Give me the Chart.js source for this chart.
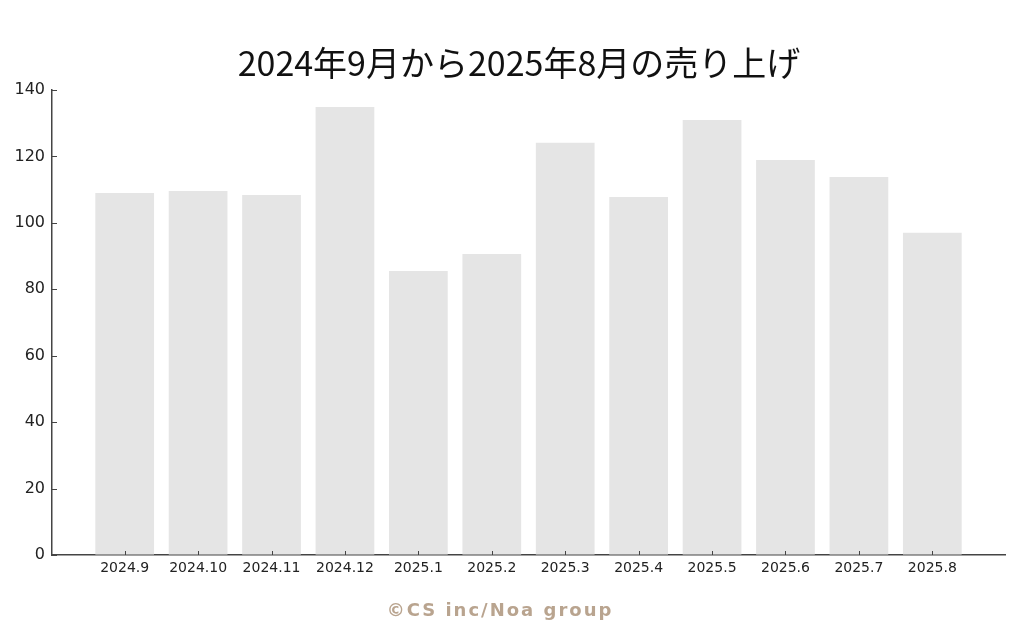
<!DOCTYPE html>
<html>
<head>
<meta charset="utf-8">
<script src="https://cdn.jsdelivr.net/npm/chart.js@4.4.1/dist/chart.umd.min.js"></script>
<style>
  html, body { margin: 0; padding: 0; background: #fff; }
  #wrap { position: relative; width: 1024px; height: 642px; }
  #title {
    position: absolute; left: 7px; top: 37px; width: 1024px; text-align: center;
    font-family: "Noto Sans CJK JP", "Noto Sans", sans-serif; font-size: 34px; color: #111;
  }
  #credit {
    position: absolute; left: 0; top: 599px; width: 1000px; text-align: center;
    font-family: "DejaVu Sans", sans-serif; font-size: 18px; letter-spacing: 2px;
    color: #b9a48f; font-weight: bold;
  }
</style>
</head>
<body>
<div id="wrap">
  <canvas id="myChart" width="1024" height="642"></canvas>
  <div id="title">2024年9月から2025年8月の売り上げ</div>
  <div id="credit">©CS inc/Noa group</div>
</div>
<script>
const months = ["2024.9", "2024.10", "2024.11", "2024.12", "2025.1", "2025.2",
  "2025.3", "2025.4", "2025.5", "2025.6", "2025.7", "2025.8"];
const sales = [109, 109.6, 108.4, 134.9, 85.5, 90.6, 124.1, 107.8, 131, 118.9, 113.8, 97];
const yTicks = [0, 20, 40, 60, 80, 100, 120, 140];

const axisColor = "#444";

// matplotlib style ticks pointing into the plot
const innerTicks = {
  id: "innerTicks",
  afterDraw(chart) {
    const ctx = chart.ctx;
    const xs = chart.scales.x;
    const ys = chart.scales.y;
    ctx.save();
    ctx.strokeStyle = axisColor;
    ctx.lineWidth = 1;
    xs.ticks.forEach((t) => {
      const px = Math.round(xs.getPixelForValue(t.value)) + 0.5;
      ctx.beginPath();
      ctx.moveTo(px, ys.bottom);
      ctx.lineTo(px, ys.bottom - 4);
      ctx.stroke();
    });
    ys.ticks.forEach((t) => {
      const py = Math.round(ys.getPixelForValue(t.value)) + 0.5;
      ctx.beginPath();
      ctx.moveTo(xs.left, py);
      ctx.lineTo(xs.left + 5, py);
      ctx.stroke();
    });
    ctx.restore();
  },
};

const ctx = document.getElementById("myChart").getContext("2d");
const myChart = new Chart(ctx, {
  type: "bar",
  data: {
    datasets: [
      {
        data: sales.map((v, i) => ({ x: i, y: v })),
        backgroundColor: "#e5e5e5",
        borderWidth: 0,
        barPercentage: 0.8,
        categoryPercentage: 1,
      },
    ],
  },
  options: {
    responsive: false,
    animation: false,
    layout: { padding: { top: 90, right: 19, left: 0, bottom: 0 } },
    plugins: { legend: { display: false }, tooltip: { enabled: false } },
    scales: {
      x: {
        type: "linear",
        offset: false,
        min: -0.99,
        max: months.length - 0.01,
        afterBuildTicks: (scale) => {
          scale.ticks = months.map((_, i) => ({ value: i }));
        },
        afterFit: (scale) => { scale.height = 87; },
        grid: { display: true, drawOnChartArea: false, drawTicks: false },
        border: { display: true, color: axisColor, width: 1.5 },
        ticks: {
          autoSkip: false,
          maxRotation: 0,
          padding: 5,
          color: "#222",
          font: { family: "DejaVu Sans", size: 14 },
          callback: (v) => months[v],
        },
      },
      y: {
        min: 0,
        max: 140,
        afterBuildTicks: (scale) => {
          scale.ticks = yTicks.map((v) => ({ value: v }));
        },
        afterFit: (scale) => { scale.width = 52; },
        grid: { display: true, drawOnChartArea: false, drawTicks: false },
        border: { display: true, color: axisColor, width: 1.5 },
        ticks: {
          padding: 7,
          color: "#222",
          font: { family: "DejaVu Sans", size: 16 },
        },
      },
    },
  },
  plugins: [innerTicks],
});
</script>
</body>
</html>
